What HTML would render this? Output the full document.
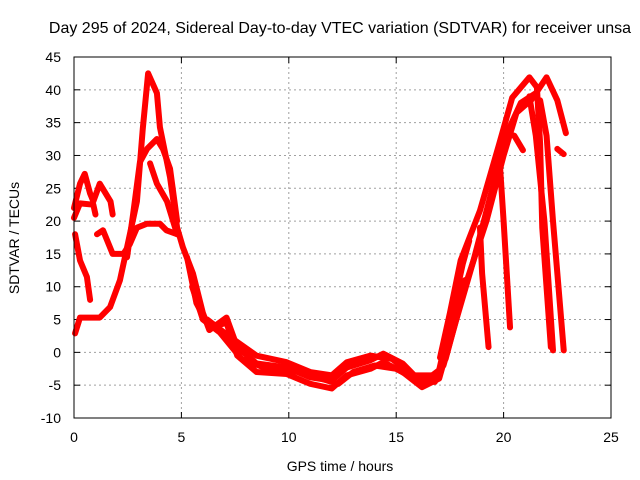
<!DOCTYPE html>
<html><head><meta charset="utf-8"><style>
body{margin:0;background:#fff}
svg{display:block;font-family:"Liberation Sans",sans-serif}
</style></head><body>
<svg id="c" width="640" height="480">
<text x="340" y="33" font-size="16" text-anchor="middle">Day 295 of 2024, Sidereal Day-to-day VTEC variation (SDTVAR) for receiver unsa</text>
<g id="grid"></g>
<g id="ticks"></g>
<g id="series"></g>
<rect x="74" y="57" width="537" height="361" fill="none" stroke="#000" stroke-width="1"/>
<text x="340" y="471" font-size="14" text-anchor="middle">GPS time / hours</text>
<text transform="translate(19,238) rotate(-90)" font-size="14" text-anchor="middle">SDTVAR / TECUs</text>
</svg>
<script>
const xTicks=[0,5,10,15,20,25];
const yTicks=[-10,-5,0,5,10,15,20,25,30,35,40,45];
const trackA=[[0.05,2.9],[0.28,5.3],[1.2,5.3],[1.68,6.9],[2.14,11],[2.47,16],[2.93,23],[3.2,34],[3.45,42.5],[3.86,39.5],[4.0,34.3],[4.47,26.7],[4.8,19],[5.07,16],[5.54,12],[6.0,6],[6.3,3.4],[7.1,5.3],[7.6,0.8],[8.5,-1.7],[9.9,-2.3],[11,-3.8],[12,-4.3],[12.7,-2.3],[13.8,-1.2],[14.4,-0.2],[15.3,-1.7],[16.2,-4.7],[17,-2.7],[17.6,6],[18.1,13.5],[18.4,17]];
const trackLow1=[[5.26,14.5],[5.7,7.5],[6.3,3.8],[7.1,4.5],[7.6,-0.5],[8.5,-3],[9.9,-3.3],[11,-4.8],[12,-5.5],[12.7,-3.5],[13.8,-2.5],[14.4,-1.5],[15.3,-3],[16.2,-5.3],[17,-4],[17.6,3],[18.2,11]];
const trackLow2=[[6.2,5],[7.2,2.5],[8.5,-0.5],[9.9,-1.5],[11,-3],[12,-3.5],[12.7,-1.5],[13.8,-0.5],[14.8,-1],[15.8,-3.5],[16.7,-3.5]];
const trackLow3=[[5.5,10],[6.0,5],[6.8,3],[7.8,-1],[9,-2.5],[10.5,-3],[11.5,-4],[12.3,-4.8],[13,-3],[14,-2],[15,-2.5],[16,-4.3],[16.8,-4.5],[17.3,0],[17.8,8]];
const trackRise=[[17.04,-0.8],[17.5,6],[18,14],[18.9,21.6],[19.8,31.8],[20.4,38.8],[21.2,41.9],[21.55,40.4],[21.7,31.8],[21.8,19],[22.2,0.8]];
const trackRise2=[[17.3,-1],[18.2,10],[19.2,20],[20,30],[20.6,36.5],[21.3,38.5],[22,41.9],[22.5,38.4],[22.9,33.4]];
const trackRise3=[[17.2,-2],[17.8,5],[18.6,14],[19.4,24],[20.1,33],[20.8,38],[21.5,39.5]];
const trackDesc1=[[21.2,39],[21.5,33],[21.9,20],[22.3,0.3]];
const trackDesc2=[[21.7,38.4],[22.0,33],[22.3,20],[22.8,0.3]];
const trackBr1=[[19.8,30],[20.0,20],[20.3,3.8]];
const trackBr2=[[18.9,19],[19.0,12],[19.3,0.8]];
const trackBr3=[[20.0,33.5],[20.5,33],[20.9,30.8]];
const trackBr4=[[22.5,31],[22.8,30.2]];
const trackB=[[0,22],[0.28,25.7],[0.5,27.2],[0.75,24.2],[0.9,23],[1.2,25.7],[1.7,23],[1.8,21]];
const trackC=[[0.05,18],[0.28,14],[0.6,11.5],[0.75,8]];
const trackD=[[0,20.5],[0.28,22.7],[0.9,22.5],[1.0,21]];
const trackE=[[1.07,18],[1.35,18.6],[1.8,15],[2.3,15],[2.6,16.5],[2.93,19],[3.4,19.6],[4.0,19.6],[4.3,18.6],[4.8,18]];
const trackF=[[2.47,14.5],[2.75,21],[3.07,29],[3.4,31],[3.86,32.5],[4.14,31],[4.47,28],[4.8,20]];
const trackG=[[3.54,28.8],[3.86,25.7],[4.33,23],[4.8,18]];
const tracks=[trackA,trackLow1,trackLow2,trackLow3,trackRise,trackRise2,trackRise3,trackDesc1,trackDesc2,trackBr1,trackBr2,trackBr3,trackBr4,trackB,trackC,trackD,trackE,trackF,trackG];
const NS="http://www.w3.org/2000/svg";
const X=h=>74+(h-0)*537/25;
const Y=v=>418-(v+10)*361/55;
function mk(t,a,p){const e=document.createElementNS(NS,t);for(const k in a)e.setAttribute(k,a[k]);p.appendChild(e);return e;}
const grid=document.getElementById('grid'),ticks=document.getElementById('ticks'),series=document.getElementById('series');
xTicks.forEach(t=>{
 if(t>0&&t<25){const l=mk('line',{x1:X(t),x2:X(t),y1:57,y2:418,stroke:'#a0a0a0','stroke-dasharray':'2,3'},grid);
 
 }
 const tx=mk('text',{x:X(t),y:442,'font-size':14,'text-anchor':'middle'},ticks);tx.textContent=t;
 
 
 mk('line',{x1:X(t),x2:X(t),y1:418,y2:412,stroke:'#000'},ticks);
 mk('line',{x1:X(t),x2:X(t),y1:57,y2:63,stroke:'#000'},ticks);
});
yTicks.forEach(t=>{
 if(t>-10&&t<45){const l=mk('line',{x1:74,x2:611,y1:Y(t),y2:Y(t),stroke:'#a0a0a0','stroke-dasharray':'2,3'},grid);
 
 }
 const tx=mk('text',{x:61,y:Y(t)+5,'font-size':14,'text-anchor':'end'},ticks);tx.textContent=t;
 
 
 mk('line',{x1:74,x2:80,y1:Y(t),y2:Y(t),stroke:'#000'},ticks);
 mk('line',{x1:611,x2:605,y1:Y(t),y2:Y(t),stroke:'#000'},ticks);
});
tracks.forEach(tr=>{
 const p=mk('polyline',{points:tr.map(d=>X(d[0])+','+Y(d[1])).join(' '),fill:'none',stroke:'#ff0000','stroke-width':6,'stroke-linejoin':'round','stroke-linecap':'round'},series);
 
 
});
</script>
</body></html>
